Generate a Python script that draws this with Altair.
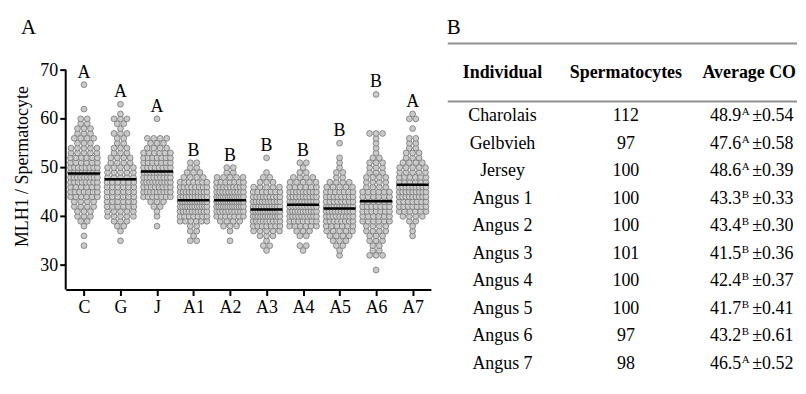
import altair as alt
import pandas as pd

SERIF = "Liberation Serif"

# ---------------- Panel A data ----------------
GROUPS = ["C", "G", "J", "A1", "A2", "A3", "A4", "A5", "A6", "A7"]
GROUP_LETTERS = ["A", "A", "A", "B", "B", "B", "B", "B", "B", "A"]
MEAN_LINE = [48.8, 47.6, 49.2, 43.3, 43.3, 41.4, 42.4, 41.6, 43.1, 46.5]

# MLH1 foci per spermatocyte: value -> number of cells
C_COUNTS = {34: 1, 36: 1, 38: 1, 39: 2, 40: 3, 41: 3, 42: 4, 43: 4, 44: 6, 45: 7, 46: 6,
            47: 8, 48: 9, 49: 8, 50: 8, 51: 6, 52: 6, 53: 5, 54: 5, 55: 3, 56: 4, 57: 3,
            58: 3, 59: 2, 60: 2, 62: 1, 67: 1}
G_COUNTS = {35: 1, 37: 1, 38: 2, 39: 3, 40: 5, 41: 5, 42: 6, 43: 6, 44: 6, 45: 6, 46: 6,
            47: 6, 48: 5, 49: 5, 50: 5, 51: 4, 52: 4, 53: 3, 54: 3, 55: 2, 56: 2, 57: 3,
            58: 1, 59: 2, 60: 3, 61: 1, 63: 1}
J_COUNTS = {38: 1, 40: 1, 41: 1, 42: 2, 43: 3, 44: 7, 45: 9, 46: 8, 47: 10, 48: 9, 49: 9,
            50: 8, 51: 7, 52: 7, 53: 6, 54: 4, 55: 3, 56: 4, 60: 1}
A1_COUNTS = {35: 2, 36: 1, 37: 2, 38: 2, 39: 6, 40: 7, 41: 10, 42: 12, 43: 12, 44: 10,
             45: 10, 46: 8, 47: 7, 48: 4, 49: 3, 50: 2, 51: 2}
A2_COUNTS = {35: 1, 37: 1, 38: 3, 39: 4, 40: 7, 41: 10, 42: 13, 43: 13, 44: 13, 45: 10,
             46: 9, 47: 7, 48: 5, 49: 2, 50: 2}
A3_COUNTS = {33: 1, 34: 2, 35: 1, 36: 3, 37: 5, 38: 7, 39: 9, 40: 12, 41: 12, 42: 11,
             43: 10, 44: 9, 45: 7, 46: 5, 47: 3, 48: 2, 49: 1, 52: 1}
A4_COUNTS = {33: 1, 34: 2, 36: 2, 37: 3, 38: 6, 39: 7, 40: 10, 41: 11, 42: 10, 43: 10,
             44: 9, 45: 9, 46: 6, 47: 5, 48: 4, 49: 2, 50: 1, 51: 2}
A5_COUNTS = {32: 1, 33: 1, 34: 2, 35: 3, 36: 4, 37: 5, 38: 6, 39: 8, 40: 9, 41: 10, 42: 11,
             43: 8, 44: 8, 45: 7, 46: 5, 47: 4, 48: 2, 49: 2, 50: 1, 51: 1, 52: 1, 55: 1}
A6_COUNTS = {29: 1, 32: 3, 33: 2, 34: 2, 35: 3, 36: 3, 37: 4, 38: 4, 39: 6, 40: 6, 41: 7,
             42: 7, 43: 6, 44: 6, 45: 6, 46: 4, 47: 4, 48: 4, 49: 3, 50: 3, 51: 3, 52: 2,
             53: 1, 54: 1, 55: 1, 56: 1, 57: 3, 65: 1}
A7_COUNTS = {36: 1, 37: 1, 38: 1, 39: 2, 40: 4, 41: 6, 42: 7, 43: 7, 44: 9, 45: 9, 46: 9,
             47: 6, 48: 6, 49: 5, 50: 5, 51: 4, 52: 3, 53: 3, 54: 2, 55: 2, 56: 2, 58: 1,
             60: 2, 61: 1}
COUNTS = [C_COUNTS, G_COUNTS, J_COUNTS, A1_COUNTS, A2_COUNTS, A3_COUNTS,
          A4_COUNTS, A5_COUNTS, A6_COUNTS, A7_COUNTS]

# ---------------- Panel B data ----------------
INDIVIDUALS = ["Charolais", "Gelbvieh", "Jersey", "Angus 1", "Angus 2", "Angus 3",
               "Angus 4", "Angus 5", "Angus 6", "Angus 7"]
SPERMATOCYTES = [112, 97, 100, 100, 100, 101, 100, 100, 97, 98]
AVG_CO = [48.9, 47.6, 48.6, 43.3, 43.4, 41.5, 42.4, 41.7, 43.2, 46.5]
AVG_LETTER = ["A", "A", "A", "B", "B", "B", "B", "B", "B", "A"]
SEM = [0.54, 0.58, 0.39, 0.33, 0.30, 0.36, 0.37, 0.41, 0.61, 0.52]
COLS = ["Individual", "Spermatocytes", "Average CO"]

# ---------------- layout constants ----------------
W_L, H_L = 367, 248
BAND_PX = W_L / len(GROUPS)
W_T, H_T = 351, 336
HEADER_ROW = -0.569
RULE_ROWS = [-1.837, 0.275]
TITLE_OFFSET = -12

# beeswarm: spread equal values side by side
pts = []
for gi, (g, cnts) in enumerate(zip(GROUPS, COUNTS)):
    for v, c in sorted(cnts.items()):
        s = min(6.5, 27.0 / max(c - 1, 1))
        for k in range(c):
            off = (k - (c - 1) / 2) * s
            pts.append({"group": g, "gi": gi, "v": v, "xpos": gi + off / BAND_PX})
df_pts = pd.DataFrame(pts)

df_mean = pd.DataFrame({"gi": list(range(len(GROUPS))), "m": MEAN_LINE})
df_let = pd.DataFrame({"gi": list(range(len(GROUPS))), "letter": GROUP_LETTERS,
                       "top": [max(c.keys()) for c in COUNTS]})

xscale = alt.Scale(domain=[-0.5, len(GROUPS) - 0.5], nice=False, zero=False)
yscale = alt.Scale(domain=[25, 75.6], nice=False, zero=False)

label_expr = "[" + ",".join("'%s'" % g for g in GROUPS) + "][datum.value]"
x_axis = alt.Axis(values=list(range(len(GROUPS))), labelExpr=label_expr, tickSize=6,
                  tickWidth=2, tickColor="black", domainColor="black", domainWidth=2,
                  labelFont=SERIF, labelFontSize=18, labelColor="black", labelPadding=3,
                  grid=False, title=None)
y_axis = alt.Axis(values=[30, 40, 50, 60, 70], domain=False, tickSize=6, tickWidth=2,
                  tickColor="black", labelFont=SERIF, labelFontSize=18, labelColor="black",
                  labelPadding=2, grid=False, title="MLH1 / Spermatocyte", titleFont=SERIF,
                  titleFontSize=18, titleFontWeight="normal", titleColor="black",
                  titlePadding=8, titleY=H_L / 2, titleAlign="center", titleAngle=270)

points = alt.Chart(df_pts).mark_circle(
    size=34, fill="#cacaca", stroke="#767676", strokeWidth=0.8, opacity=1, fillOpacity=1
).encode(
    x=alt.X("xpos:Q", scale=xscale, axis=x_axis),
    y=alt.Y("v:Q", scale=yscale, axis=y_axis),
)

means = alt.Chart(df_mean).transform_calculate(
    x1="datum.gi - 0.44", x2="datum.gi + 0.44"
).mark_rule(color="black", strokeWidth=2.5).encode(
    x=alt.X("x1:Q", scale=xscale),
    x2="x2:Q",
    y=alt.Y("m:Q", scale=yscale),
)

letters = alt.Chart(df_let).mark_text(
    font=SERIF, fontSize=18, baseline="alphabetic", dy=-7, color="black"
).encode(
    x=alt.X("gi:Q", scale=xscale),
    y=alt.Y("top:Q", scale=yscale),
    text="letter:N",
)

yline = alt.Chart(pd.DataFrame({"a": [0]})).mark_rule(color="black", strokeWidth=2).encode(
    x=alt.value(0), y=alt.datum(25), y2=alt.datum(70)
)

left = alt.layer(points, means, letters, yline).properties(
    width=W_L, height=H_L,
    title=alt.TitleParams("A", anchor="start", font=SERIF, fontSize=21,
                          fontWeight="normal", baseline="alphabetic",
                          offset=TITLE_OFFSET, dx=7, color="black"),
)

# ---------------- table ----------------
tx = alt.Scale(type="point", domain=COLS, range=[55, 303], padding=0)
ty = alt.Scale(domain=[-1.862, 10.312], reverse=True, nice=False, zero=False)
rows = list(range(1, len(INDIVIDUALS) + 1))

df_head = pd.DataFrame({"col": COLS, "row": HEADER_ROW, "txt": COLS})
df_name = pd.DataFrame({"col": "Individual", "row": rows, "txt": INDIVIDUALS})
df_n = pd.DataFrame({"col": "Spermatocytes", "row": rows, "n": SPERMATOCYTES})
df_avg = pd.DataFrame({"col": "Average CO", "row": rows, "avg": AVG_CO,
                       "sup": AVG_LETTER, "se": SEM})
df_rules = pd.DataFrame({"r": RULE_ROWS})

enc = dict(x=alt.X("col:N", scale=tx, axis=None), y=alt.Y("row:Q", scale=ty, axis=None))

rules = alt.Chart(df_rules).mark_rule(color="#8f8f8f", strokeWidth=2).encode(
    y=alt.Y("r:Q", scale=ty, axis=None), x=alt.value(0), x2=alt.value(W_T)
)
head = alt.Chart(df_head).mark_text(
    font=SERIF, fontSize=18, fontWeight="bold", baseline="alphabetic", color="black"
).encode(text="txt:N", **enc)
names = alt.Chart(df_name).mark_text(
    font=SERIF, fontSize=18, baseline="alphabetic", color="black"
).encode(text="txt:N", **enc)
ns = alt.Chart(df_n).mark_text(
    font=SERIF, fontSize=18, baseline="alphabetic", color="black"
).encode(text=alt.Text("n:Q", format="d"), **enc)
avg = alt.Chart(df_avg).mark_text(
    font=SERIF, fontSize=18, baseline="alphabetic", align="right", dx=-8, color="black"
).encode(text=alt.Text("avg:Q", format=".1f"), **enc)
sup = alt.Chart(df_avg).mark_text(
    font=SERIF, fontSize=11, baseline="alphabetic", align="left", dx=-7.5, dy=-6,
    color="black"
).encode(text="sup:N", **enc)
pm = alt.Chart(df_avg).transform_calculate(
    pmtxt="'\u00b1' + format(datum.se, '.2f')"
).mark_text(
    font=SERIF, fontSize=18, baseline="alphabetic", align="left", dx=3, color="black"
).encode(text="pmtxt:N", **enc)

table = alt.layer(rules, head, names, ns, avg, sup, pm).properties(
    width=W_T, height=H_T,
    title=alt.TitleParams("B", anchor="start", font=SERIF, fontSize=21,
                          fontWeight="normal", baseline="alphabetic",
                          offset=TITLE_OFFSET, color="black"),
)

chart = alt.hconcat(left, table, spacing=16).properties(
    padding={"left": 5, "top": 7, "right": 0, "bottom": 2}
).configure_view(stroke=None)

chart.save("out.html", embed_options={"renderer": "svg", "actions": False})
